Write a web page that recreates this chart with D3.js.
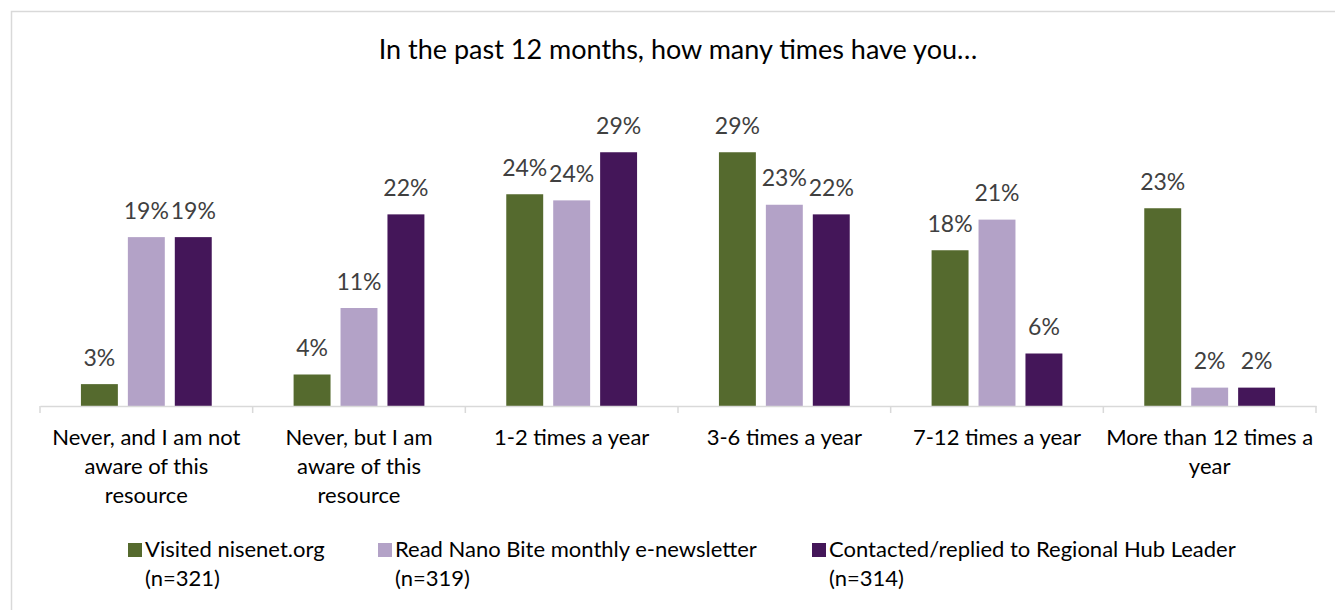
<!DOCTYPE html>
<html>
<head>
<meta charset="utf-8">
<script src="https://cdn.jsdelivr.net/npm/d3@7"></script>
<style>
  body { margin: 0; background: #fff; }
  svg { display: block; font-family: Lato, "Open Sans", sans-serif; }
</style>
</head>
<body>
<script>
// categories, each split into the lines shown under the axis
var categories = ["never_unaware", "never_aware", "1-2", "3-6", "7-12", "12+"];
var categoryLines = [
  ["Never, and I am not", "aware of this", "resource"],
  ["Never, but I am", "aware of this", "resource"],
  ["1-2 times a year"],
  ["3-6 times a year"],
  ["7-12 times a year"],
  ["More than 12 times a", "year"]
];

// series names, sample sizes and percent values
var seriesNames = ["Visited nisenet.org", "Read Nano Bite monthly e-newsletter", "Contacted/replied to Regional Hub Leader"];
var seriesN = ["(n=321)", "(n=319)", "(n=314)"];
var visited   = [2.5, 3.6, 24.2, 29.0, 17.8, 22.6];
var nanoBite  = [19.3, 11.2, 23.5, 23.0, 21.3, 2.1];
var contacted = [19.3, 21.9, 29.0, 21.9, 6.0, 2.1];
var seriesValues = [visited, nanoBite, contacted];
var colors = ["#556a2e", "#b3a2c7", "#441659"];

var width = 1335, height = 610;
var baseY = 406;

var svg = d3.select("body").append("svg")
  .attr("width", width)
  .attr("height", height);

// chart border (runs off the right and bottom of the picture)
svg.append("rect")
  .attr("x", 11.5).attr("y", 11.5)
  .attr("width", width).attr("height", height)
  .attr("fill", "#fff")
  .attr("stroke", "#d9d9d9")
  .attr("stroke-width", 1.5);

// title
svg.append("text")
  .attr("x", 678).attr("y", 59)
  .attr("text-anchor", "middle")
  .attr("font-size", 27)
  .attr("fill", "#000")
  .text("In the past 12 months, how many times have you\u2026");

// scales
var x0 = d3.scaleBand()
  .domain(categories)
  .range([40, 1316]);

var x1 = d3.scaleBand()
  .domain(d3.range(seriesNames.length))
  .range([0, x0.bandwidth()])
  .paddingInner(0.213)
  .paddingOuter(0.872);

var y = d3.scaleLinear()
  .domain([0, 35])
  .range([baseY, baseY - 35 * 8.75]);

// bars and labels, one group per category
var groups = svg.selectAll(".cat")
  .data(categories)
  .enter().append("g")
  .attr("class", "cat")
  .attr("transform", function(d) { return "translate(" + x0(d) + ",0)"; });

groups.selectAll("rect")
  .data(function(d, i) { return seriesValues.map(function(s, k) { return {k: k, v: s[i]}; }); })
  .enter().append("rect")
  .attr("x", function(d) { return x1(d.k); })
  .attr("y", function(d) { return y(d.v); })
  .attr("width", x1.bandwidth())
  .attr("height", function(d) { return y(0) - y(d.v); })
  .attr("fill", function(d) { return colors[d.k]; });

groups.selectAll("text.lbl")
  .data(function(d, i) { return seriesValues.map(function(s, k) { return {k: k, v: s[i]}; }); })
  .enter().append("text")
  .attr("class", "lbl")
  .attr("x", function(d) { return x1(d.k) + x1.bandwidth() / 2; })
  .attr("y", function(d) { return y(d.v) - 18.5; })
  .attr("text-anchor", "middle")
  .attr("font-size", 23)
  .attr("fill", "#404040")
  .text(function(d) { return Math.round(d.v) + "%"; });

// x axis line, ticks at the category boundaries
var xAxis = svg.append("g")
  .attr("transform", "translate(0," + baseY + ")")
  .call(d3.axisBottom(x0).tickSize(0).tickSizeOuter(0).tickFormat(""));
xAxis.select(".domain").attr("stroke", "#d9d9d9").attr("stroke-width", 1.5);

var bounds = categories.map(function(c) { return x0(c); }).concat([x0.range()[1]]);
svg.selectAll(".bound")
  .data(bounds)
  .enter().append("line")
  .attr("class", "bound")
  .attr("x1", function(d) { return d; }).attr("x2", function(d) { return d; })
  .attr("y1", baseY).attr("y2", baseY + 7)
  .attr("stroke", "#d9d9d9")
  .attr("stroke-width", 1.5);

// category labels
var catLabels = svg.selectAll(".catlabel")
  .data(categories)
  .enter().append("text")
  .attr("class", "catlabel")
  .attr("text-anchor", "middle")
  .attr("font-size", 22)
  .attr("fill", "#000");

catLabels.selectAll("tspan")
  .data(function(d, i) { return categoryLines[i].map(function(t) { return {t: t, c: d}; }); })
  .enter().append("tspan")
  .attr("x", function(d) { return x0(d.c) + x0.bandwidth() / 2; })
  .attr("y", function(d, j) { return 445 + j * 29; })
  .text(function(d) { return d.t; });

// legend
var legendX = [145, 395, 829];
var legend = svg.selectAll(".legend")
  .data(seriesNames)
  .enter().append("g")
  .attr("class", "legend")
  .attr("transform", function(d, i) { return "translate(" + legendX[i] + ",0)"; });

legend.append("rect")
  .attr("x", -17).attr("y", 543)
  .attr("width", 14).attr("height", 14)
  .attr("fill", function(d, i) { return colors[i]; });

legend.append("text")
  .attr("y", 557)
  .attr("font-size", 22)
  .attr("fill", "#000")
  .text(function(d) { return d; });

legend.append("text")
  .attr("y", 586)
  .attr("font-size", 22)
  .attr("fill", "#000")
  .text(function(d, i) { return seriesN[i]; });
</script>
</body>
</html>
